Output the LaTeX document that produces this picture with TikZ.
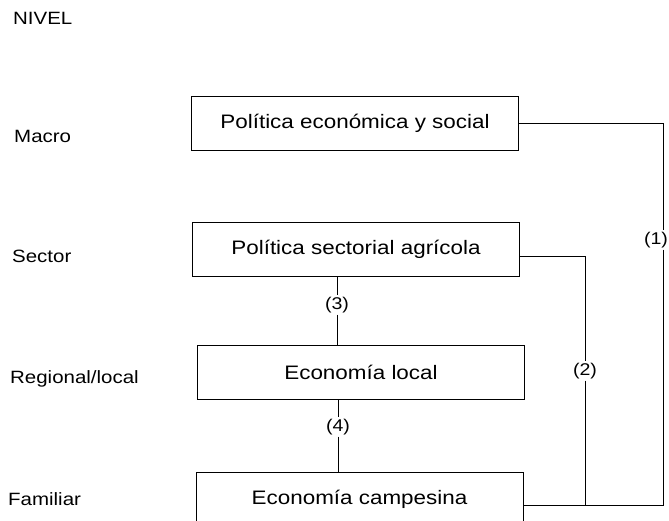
\documentclass[tikz,border=0pt]{standalone}
\usepackage{fontspec}
\setmainfont{Liberation Sans}[FakeStretch=1.15]
\usepackage{tikz}
\usetikzlibrary{positioning}

\tikzset{
  nivelbox/.style={draw, line width=0.9pt, minimum width=327pt, minimum height=54pt,
                   font=\fontsize{19.5}{23}\selectfont, inner sep=0pt},
  nivel/.style={anchor=base west, inner sep=0pt, font=\fontsize{17.8}{21}\selectfont},
  nro/.style={inner sep=1.5pt, font=\fontsize{17}{20}\selectfont},
  link/.style={line width=0.9pt}
}

\begin{document}
\begin{tikzpicture}[x=1pt, y=-1pt]
    \useasboundingbox (0,0) rectangle (669,521);
    \clip (0,0) rectangle (669,521);

    % levels on the left
    \node[nivel] (niv) at (13,25) {NIVEL};
    \node[nivel] (nmac) at (14,143) {Macro};
    \node[nivel] (nsec) at (12,263) {Sector};
    \node[nivel] (nreg) at (10,383) {Regional/local};
    \node[nivel] (nfam) at (8,505) {Familiar};

    % boxes
    \node[nivelbox] (macro) at (355,123.5) {Política económica y social};
    \node[nivelbox] (sector) at (356,249.5) {Política sectorial agrícola};
    \node[nivelbox] (local) at (361,372.5) {Economía local};
    \node[nivelbox] (campo) at (359.5,499) {Economía campesina};

    % labels on the links
    \node[nro] (n1) at (656,240) {(1)};
    \node[nro] (n2) at (585,371) {(2)};
    \node[nro] (n3) at (337,305) {(3)};
    \node[nro] (n4) at (338,427) {(4)};

    \coordinate (r1) at (663,505);
    \coordinate (r2) at (585,505);

    % links
    \draw[link] (macro.east) -| (n1.north -| r1);
    \draw[link] (n1.south -| r1) -- (r1) -- (campo.east |- r1);
    \draw[link] ([yshift=-7pt]sector.east) -| (n2.north);
    \draw[link] (n2.south) -- (r2);
    \draw[link] (sector.south -| n3) -- (n3.north);
    \draw[link] (n3.south) -- (local.north -| n3);
    \draw[link] (local.south -| n4) -- (n4.north);
    \draw[link] (n4.south) -- (campo.north -| n4);
\end{tikzpicture}
\end{document}
